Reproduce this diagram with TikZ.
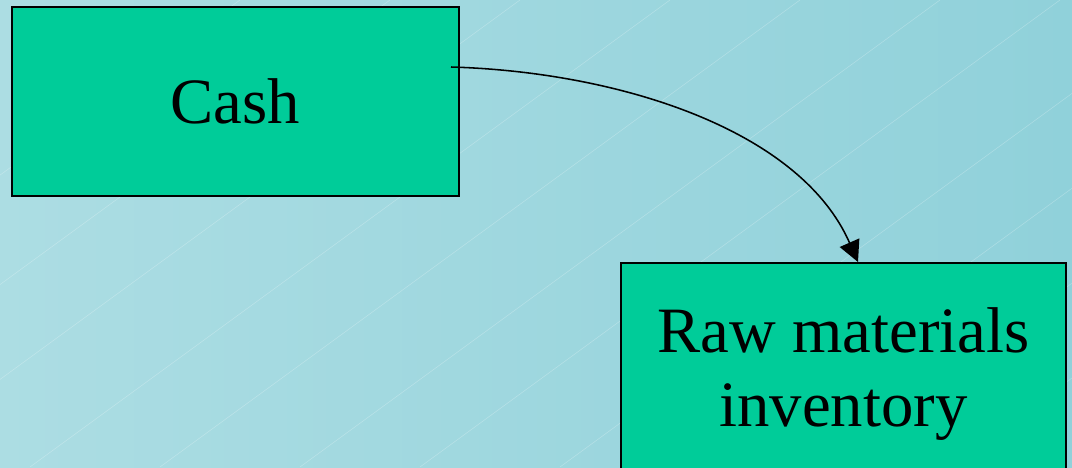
\documentclass[tikz,border=0pt]{standalone}
\usepackage{fontspec}
\setmainfont{Liberation Serif}
\usetikzlibrary{arrows.meta}

\definecolor{bgtop}{RGB}{172,221,227}
\definecolor{bgbot}{RGB}{144,209,218}
\definecolor{boxgreen}{RGB}{0,204,153}

\tikzset{
  stage/.style={draw=black,line width=1.6pt,fill=boxgreen,align=center,
    font=\fontsize{46}{53}\selectfont},
  flow/.style={line width=1.1pt,-{Triangle[length=15pt,width=15pt]}}
}

\begin{document}
\begin{tikzpicture}[x=0.025cm,y=-0.025cm]
\useasboundingbox (0,0) rectangle (1072,467);
\clip (0,0) rectangle (1072,467);
\shade[shading angle=60,left color=bgtop,right color=bgbot] (0,0) rectangle (1072,467);

% faint texture of the slide
\foreach \s in {-400,-250,-120,30,160,300,420,560,690,820,950}
  \draw[white,opacity=0.25,line width=0.4pt] (\s,467) -- (\s+640,0);

\node[stage,minimum width=11.175cm,minimum height=4.725cm] (cash) at (235.5,101.5) {Cash};
\node[stage,minimum width=11.125cm,minimum height=5.55cm] (raw) at (843.5,374)
  {Raw materials\\inventory};

\coordinate (out) at (451,67);
\coordinate (in) at (858,262);
\draw[flow] (out) .. controls (620,72) and (800,130) .. (in);
\end{tikzpicture}
\end{document}
